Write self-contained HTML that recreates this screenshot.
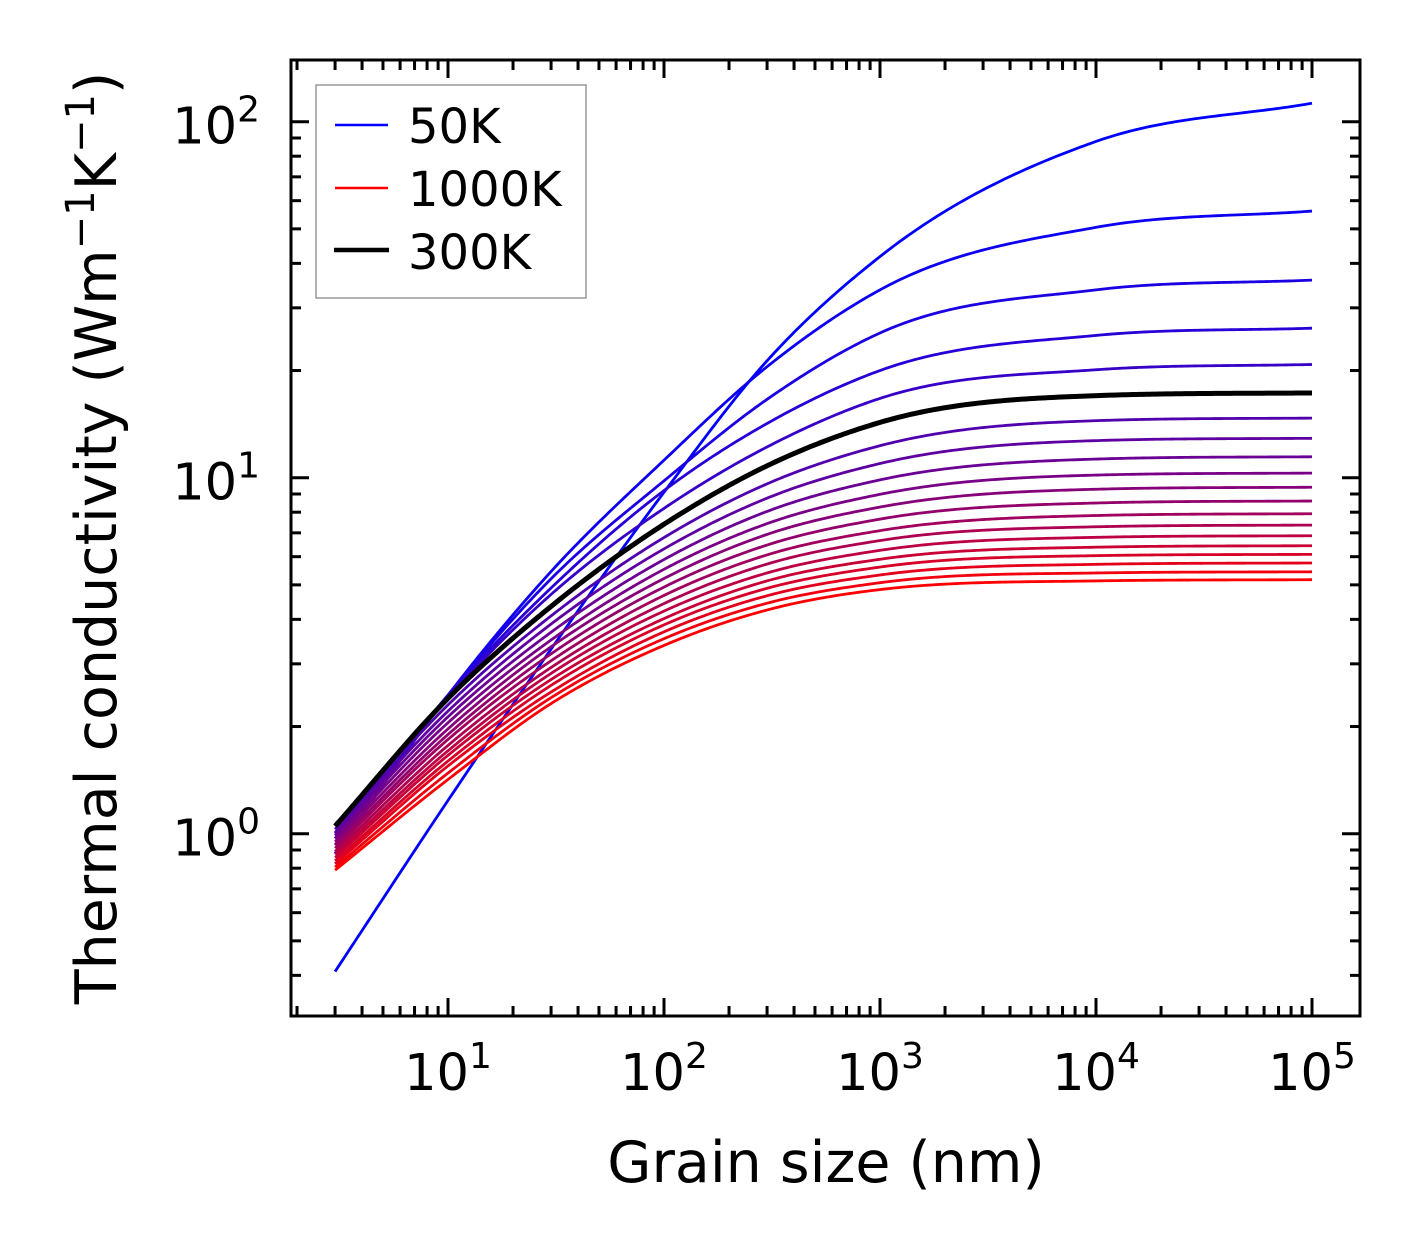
<!DOCTYPE html>
<html><head><meta charset="utf-8">
<style>
html,body{margin:0;padding:0;background:#fff;}
svg{display:block;font-family:"DejaVu Sans","Liberation Sans",sans-serif;}
</style></head>
<body>
<svg id="chart" width="1421" height="1254" viewBox="0 0 1421 1254" xmlns="http://www.w3.org/2000/svg">
  <rect x="0" y="0" width="1421" height="1254" fill="#fff"/>
  <g id="series"></g>
  <g id="ticks"></g>
  <rect x="291" y="60" width="1069" height="956" fill="none" stroke="#000" stroke-width="3"/>
  <g id="xlabels" font-size="51" text-anchor="middle"></g>
  <g id="ylabels" font-size="51" text-anchor="end"></g>
  <text x="826" y="1182" font-size="57" text-anchor="middle">Grain size (nm)</text>
  <text transform="translate(116,538) rotate(-90)" font-size="57" text-anchor="middle">Thermal conductivity (Wm<tspan dy="-22" font-size="40">−1</tspan><tspan dy="22">K</tspan><tspan dy="-22" font-size="40">−1</tspan><tspan dy="22">)</tspan></text>
  <g>
    <rect x="316" y="85" width="270" height="213" fill="#fff" stroke="#999" stroke-width="1.5"/>
    <line x1="335" y1="125" x2="388" y2="125" stroke="#0000ff" stroke-width="2.5"/>
    <text x="408" y="143" font-size="48">50K</text>
    <line x1="335" y1="188" x2="388" y2="188" stroke="#ff0000" stroke-width="2.5"/>
    <text x="408" y="206" font-size="48">1000K</text>
    <line x1="334" y1="250" x2="389" y2="250" stroke="#000" stroke-width="4.5"/>
    <text x="408" y="269" font-size="48">300K</text>
  </g>
</svg>
<script>
const grainSizes = [3, 10, 30, 100, 300, 1000, 10000, 100000];
const temperatures = [50,100,150,200,250,300,350,400,450,500,550,600,650,700,750,800,850,900,950,1000];
const k50 = [0.41,1.24,3.3,9.1,21.3,41.8,88,112.7];
const k100 = [0.88,2.45,5.45,11.2,20.5,33.7,50.5,56.1];
const k150 = [0.93,2.45,5.2,9.8,16.6,25.5,33.7,35.9];
const k200 = [0.97,2.45,4.9,9.2,14.2,20.0,25.1,26.3];
const k250 = [1.0,2.42,4.7,8.2,12.2,16.7,20.1,20.8];
const k300 = [1.05,2.4,4.35,7.4,10.8,14.3,17.0,17.3];
const k350 = [1.029,2.30,4.09,6.79,9.61,12.3,14.46,14.7];
const k400 = [1.008,2.21,3.88,6.31,8.76,10.96,12.71,12.9];
const k450 = [0.988,2.13,3.68,5.89,8.04,9.86,11.28,11.45];
const k500 = [0.968,2.05,3.50,5.53,7.43,8.98,10.17,10.3];
const k550 = [0.949,1.97,3.35,5.21,6.93,8.27,9.28,9.40];
const k600 = [0.929,1.90,3.20,4.93,6.47,7.65,8.49,8.60];
const k650 = [0.911,1.84,3.06,4.67,6.07,7.10,7.83,7.92];
const k700 = [0.892,1.77,2.93,4.43,5.72,6.66,7.28,7.36];
const k750 = [0.874,1.71,2.82,4.22,5.40,6.25,6.80,6.87];
const k800 = [0.857,1.66,2.71,4.02,5.13,5.90,6.38,6.44];
const k850 = [0.839,1.60,2.61,3.86,4.89,5.61,6.04,6.09];
const k900 = [0.823,1.55,2.50,3.69,4.66,5.33,5.71,5.76];
const k950 = [0.806,1.48,2.41,3.53,4.44,5.07,5.40,5.44];
const k1000 = [0.79,1.42,2.32,3.38,4.25,4.85,5.13,5.17];
const seriesValues = [k50,k100,k150,k200,k250,k300,k350,k400,k450,k500,k550,k600,k650,k700,k750,k800,k850,k900,k950,k1000];
const xTickExps = [1,2,3,4,5];
const yTickExps = [0,1,2];

const NS = "http://www.w3.org/2000/svg";
const X0 = 232, XD = 216;
const Y0 = 833.7, YD = 356;
const PL = 291, PR = 1360, PT = 60, PB = 1016;
function xs(v){ return X0 + XD*Math.log10(v); }
function ys(v){ return Y0 - YD*Math.log10(v); }

function smoothInterp(xa, ya){
  const n = xa.length, m = new Array(n), d = [];
  for(let i=0;i<n-1;i++) d.push((ya[i+1]-ya[i])/(xa[i+1]-xa[i]));
  m[0] = d[0];
  m[n-1] = d[n-2];
  for(let i=1;i<n-1;i++){
    const h0=xa[i]-xa[i-1], h1=xa[i+1]-xa[i];
    m[i] = (d[i-1]*h1 + d[i]*h0)/(h0+h1);
  }
  for(let i=0;i<n-1;i++){
    if(d[i]<=0){continue;}
    const a=m[i]/d[i], b=m[i+1]/d[i], s=a*a+b*b;
    if(s>9){const t=3/Math.sqrt(s); m[i]=t*a*d[i]; m[i+1]=t*b*d[i];}
  }
  return function(x){
    let i=0; while(i<n-2 && x>xa[i+1]) i++;
    const h=xa[i+1]-xa[i], t=(x-xa[i])/h, t2=t*t, t3=t2*t;
    return (2*t3-3*t2+1)*ya[i]+(t3-2*t2+t)*h*m[i]+(-2*t3+3*t2)*ya[i+1]+(t3-t2)*h*m[i+1];
  };
}

const gS = document.getElementById('series');
const lx = grainSizes.map(v=>Math.log10(v));
let blackPath = null;
seriesValues.forEach((vals, idx) => {
  const f = smoothInterp(lx, vals.map(v=>Math.log10(v)));
  const a = lx[0], b = lx[lx.length-1], N = 300;
  let d = '';
  for(let j=0;j<=N;j++){
    const l = a+(b-a)*j/N;
    const L = Math.pow(10,l), K = Math.pow(10,f(l));
    d += (j?'L':'M') + xs(L).toFixed(2) + ' ' + ys(K).toFixed(2);
  }
  const p = document.createElementNS(NS,'path');
  p.setAttribute('d', d);
  p.setAttribute('fill','none');
  p.setAttribute('stroke-linejoin','round');
  const T = temperatures[idx];
  if(T===300){
    p.setAttribute('stroke','#000');
    p.setAttribute('stroke-width','5');
    blackPath = p;
  } else {
    const r = Math.round(255*idx/19), bl = Math.round(255*(1-idx/19));
    p.setAttribute('stroke','rgb('+r+',0,'+bl+')');
    p.setAttribute('stroke-width','2.8');
  }
  
  
  gS.appendChild(p);
});
if(blackPath) gS.appendChild(blackPath);

const gT = document.getElementById('ticks');
function tk(x1,y1,x2,y2,name){
  const l = document.createElementNS(NS,'line');
  l.setAttribute('x1',x1);l.setAttribute('y1',y1);l.setAttribute('x2',x2);l.setAttribute('y2',y2);
  l.setAttribute('stroke','#000');l.setAttribute('stroke-width','3');
  
  
  gT.appendChild(l);
}
for(let e=0;e<=5;e++){
  for(let m=1;m<=9;m++){
    const x = xs(m*Math.pow(10,e));
    if(x<PL+1 || x>PR-1) continue;
    const len = m===1?18:10;
    tk(x,PB,x,PB-len,'x-tick');
    tk(x,PT,x,PT+len,'x-tick-top');
  }
}
for(let e=-1;e<=2;e++){
  for(let m=1;m<=9;m++){
    const y = ys(m*Math.pow(10,e));
    if(y<PT+1 || y>PB-1) continue;
    const len = m===1?18:10;
    tk(PL,y,PL+len,y,'y-tick');
    tk(PR,y,PR-len,y,'y-tick-right');
  }
}
const gX = document.getElementById('xlabels');
xTickExps.forEach(e=>{
  const t = document.createElementNS(NS,'text');
  t.setAttribute('x', xs(Math.pow(10,e)));
  t.setAttribute('y', 1090);
  t.innerHTML = '10<tspan dy="-22" font-size="36">'+e+'</tspan>';
  
  
  gX.appendChild(t);
});
const gY = document.getElementById('ylabels');
yTickExps.forEach(e=>{
  const t = document.createElementNS(NS,'text');
  t.setAttribute('x', 260);
  t.setAttribute('y', ys(Math.pow(10,e))+22);
  t.innerHTML = '10<tspan dy="-22" font-size="36">'+e+'</tspan>';
  
  
  gY.appendChild(t);
});
</script>
</body></html>
